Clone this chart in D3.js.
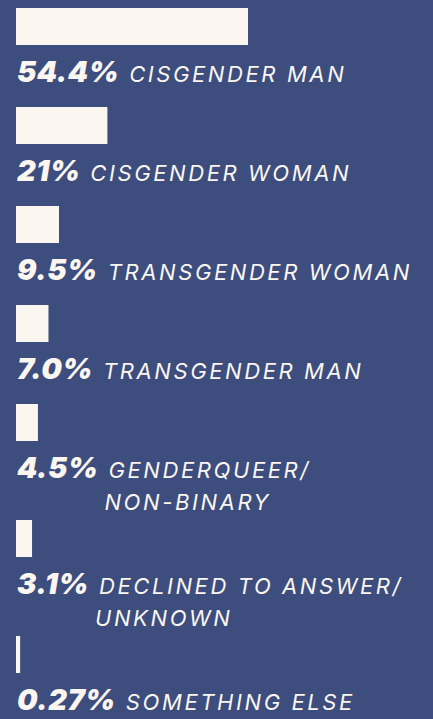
<!DOCTYPE html>
<html>
<head>
<meta charset="utf-8">
<script src="https://cdn.jsdelivr.net/npm/d3@7"></script>
<style>
  html, body { margin: 0; padding: 0; background: #3c4d7e; }
  svg { display: block; }
</style>
</head>
<body>
<div id="chart"></div>
<script>
const WIDTH = 433;
const HEIGHT = 719;
const MARGIN = { LEFT: 16, TOP: 8 };

// data
const percentLabels = ["54.4%", "21%", "9.5%", "7.0%", "4.5%", "3.1%", "0.27%"];
const values = [54.4, 21, 9.5, 7.0, 4.5, 3.1, 0.27];
const categories = [
    ["CISGENDER MAN"],
    ["CISGENDER WOMAN"],
    ["TRANSGENDER WOMAN"],
    ["TRANSGENDER MAN"],
    ["GENDERQUEER/", "NON-BINARY"],
    ["DECLINED TO ANSWER/", "UNKNOWN"],
    ["SOMETHING ELSE"]
];

const BG = "#3c4d7e";
const CREAM = "#fbf6ef";
const BAR_H = 37;
const ROW_H = 99;      // one-line row
const EXTRA_LINE = 17; // added for each extra label line
const LINE_GAP = 32;

const data = values.map((v, i) => ({ value: v, pct: percentLabels[i], lines: categories[i] }));

// row tops, one-line rows are 99px, two-line rows a bit more
let acc = MARGIN.TOP;
data.forEach(d => {
    d.top = acc;
    acc += ROW_H + EXTRA_LINE * (d.lines.length - 1);
});

// bar length scale (the tiny bars keep a few px)
const x = d3.scaleLinear()
    .domain([0, 54.4])
    .range([MARGIN.LEFT + 3, MARGIN.LEFT + 232]);

const svg = d3.select("#chart")
    .append("svg")
    .attr("width", WIDTH)
    .attr("height", HEIGHT);

svg.append("rect")
    .attr("width", WIDTH)
    .attr("height", HEIGHT)
    .attr("fill", BG);

const rows = svg.selectAll(".row")
    .data(data)
    .enter()
    .append("g")
    .attr("class", "row")
    .attr("transform", d => `translate(0, ${d.top})`);

rows.append("rect")
    .attr("x", MARGIN.LEFT)
    .attr("y", 0)
    .attr("width", d => x(d.value) - MARGIN.LEFT)
    .attr("height", BAR_H)
    .attr("fill", CREAM);

const label = rows.append("text")
    .attr("x", MARGIN.LEFT + 1)
    .attr("y", BAR_H + 37)
    .attr("fill", CREAM)
    .style("font-style", "italic");

label.append("tspan")
    .attr("class", "pct")
    .style("font-family", "Inter, sans-serif")
    .style("font-weight", 900)
    .style("font-size", "29px")
    .style("letter-spacing", "0.4px")
    .text(d => d.pct);

label.append("tspan")
    .attr("class", "cat")
    .attr("dx", 10)
    .style("font-family", "Inter, sans-serif")
    .style("font-weight", 400)
    .style("font-size", "22px")
    .style("letter-spacing", "2.6px")
    .text(d => d.lines[0]);

// second line, placed under the start of the category text
rows.each(function(d) {
    if (d.lines.length < 2) return;
    const g = d3.select(this);
    const catNode = g.select("tspan.cat").node();
    const startX = catNode.getStartPositionOfChar(0).x;
    g.append("text")
        .attr("x", startX - 4)
        .attr("y", BAR_H + 37 + LINE_GAP)
        .attr("fill", CREAM)
        .style("font-style", "italic")
        .style("font-family", "Inter, sans-serif")
        .style("font-size", "22px")
        .style("letter-spacing", "2.6px")
        .text(d.lines[1]);
});
</script>
</body>
</html>
